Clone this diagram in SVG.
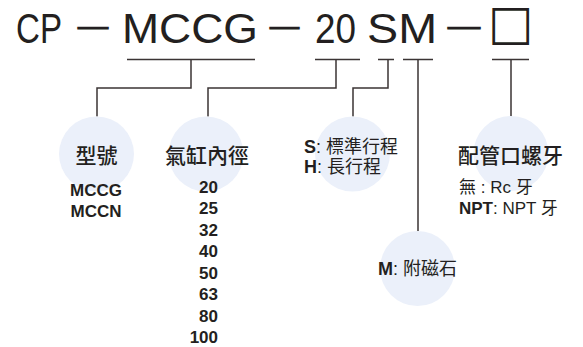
<svg xmlns="http://www.w3.org/2000/svg" width="583" height="347" viewBox="0 0 583 347">
<style>
.bg{fill:#ffffff}
.bub{fill:#ebf0fa}
.ln{fill:none;stroke:#3b3434;stroke-width:1.5}
.hd{font-family:"Liberation Sans","DejaVu Sans",sans-serif;font-size:42px;fill:#231f20}
.dash{font-family:"Liberation Sans","DejaVu Sans",sans-serif;font-size:24px;fill:#231f20;stroke:#231f20;stroke-width:1.2}
.box{font-family:"DejaVu Sans",sans-serif;font-size:48px;font-weight:bold;fill:#231f20}
.cjk{font-family:"Liberation Sans","Noto Sans CJK TC",sans-serif;fill:#231f20}
.ttl{font-size:21px;font-weight:500}
.b{font-family:"Liberation Sans","Noto Sans CJK TC",sans-serif;font-weight:bold;fill:#231f20}
.t17{font-size:17px}
.t18{font-size:18px}
</style>
<rect class="bg" x="0" y="0" width="583" height="347"/>
<g id="title">
<text class="hd" x="16" y="43" textLength="46" lengthAdjust="spacingAndGlyphs">CP</text>
<text class="dash" x="78" y="33.5" textLength="30" lengthAdjust="spacingAndGlyphs">—</text>
<text class="hd" x="122" y="43" textLength="136" lengthAdjust="spacingAndGlyphs">MCCG</text>
<text class="dash" x="270" y="33.5" textLength="29" lengthAdjust="spacingAndGlyphs">—</text>
<text class="hd" x="315" y="43" textLength="41" lengthAdjust="spacingAndGlyphs">20</text>
<text class="hd" x="367" y="43" textLength="70" lengthAdjust="spacingAndGlyphs">SM</text>
<text class="dash" x="448" y="33.5" textLength="32" lengthAdjust="spacingAndGlyphs">—</text>
<text class="box" x="488" y="38.5">□</text>
</g>
<g id="connectors">
<path class="ln" d="M127,59.5H255M191,59.5V88H97V116.5"/>
<path class="ln" d="M315,59.5H360M336,59.5V88H208V116.5"/>
<path class="ln" d="M378,59.5H394M388,59.5V88H353V116.5"/>
<path class="ln" d="M403,59.5H433M418,59.5V231"/>
<path class="ln" d="M492,59.5H529M511,59.5V116.5"/>
</g>
<g id="node-model">
<circle class="bub" cx="96.5" cy="154" r="37.5"/>
<text class="cjk ttl" x="96.5" y="163" text-anchor="middle">型號</text>
<text class="b t17" x="96" y="196" text-anchor="middle">MCCG</text>
<text class="b t17" x="96" y="216.5" text-anchor="middle">MCCN</text>
</g>
<g id="node-bore">
<circle class="bub" cx="206" cy="154" r="37.5"/>
<text class="cjk ttl" x="207" y="163" text-anchor="middle">氣缸內徑</text>
<g class="b t17" text-anchor="end">
<text x="218" y="192.5">20</text>
<text x="218" y="214">25</text>
<text x="218" y="235.5">32</text>
<text x="218" y="257">40</text>
<text x="218" y="278.5">50</text>
<text x="218" y="300">63</text>
<text x="218" y="321.5">80</text>
<text x="218" y="343">100</text>
</g>
</g>
<g id="node-stroke">
<circle class="bub" cx="352.5" cy="154" r="37.5"/>
<text class="cjk t18" x="304" y="152.5"><tspan font-weight="bold">S</tspan>: 標準行程</text>
<text class="cjk t18" x="304" y="172.5"><tspan font-weight="bold">H</tspan>: 長行程</text>
</g>
<g id="node-magnet">
<circle class="bub" cx="417.5" cy="268.5" r="37.5"/>
<text class="cjk t18" x="378" y="275"><tspan font-weight="bold">M</tspan>: 附磁石</text>
</g>
<g id="node-thread">
<circle class="bub" cx="511" cy="153.5" r="37.5"/>
<text class="cjk ttl" x="458" y="163">配管口螺牙</text>
<text class="cjk t17" x="459" y="193">無 : Rc 牙</text>
<text class="cjk t17" x="459" y="214"><tspan font-weight="bold">NPT</tspan>: NPT 牙</text>
</g>
</svg>
